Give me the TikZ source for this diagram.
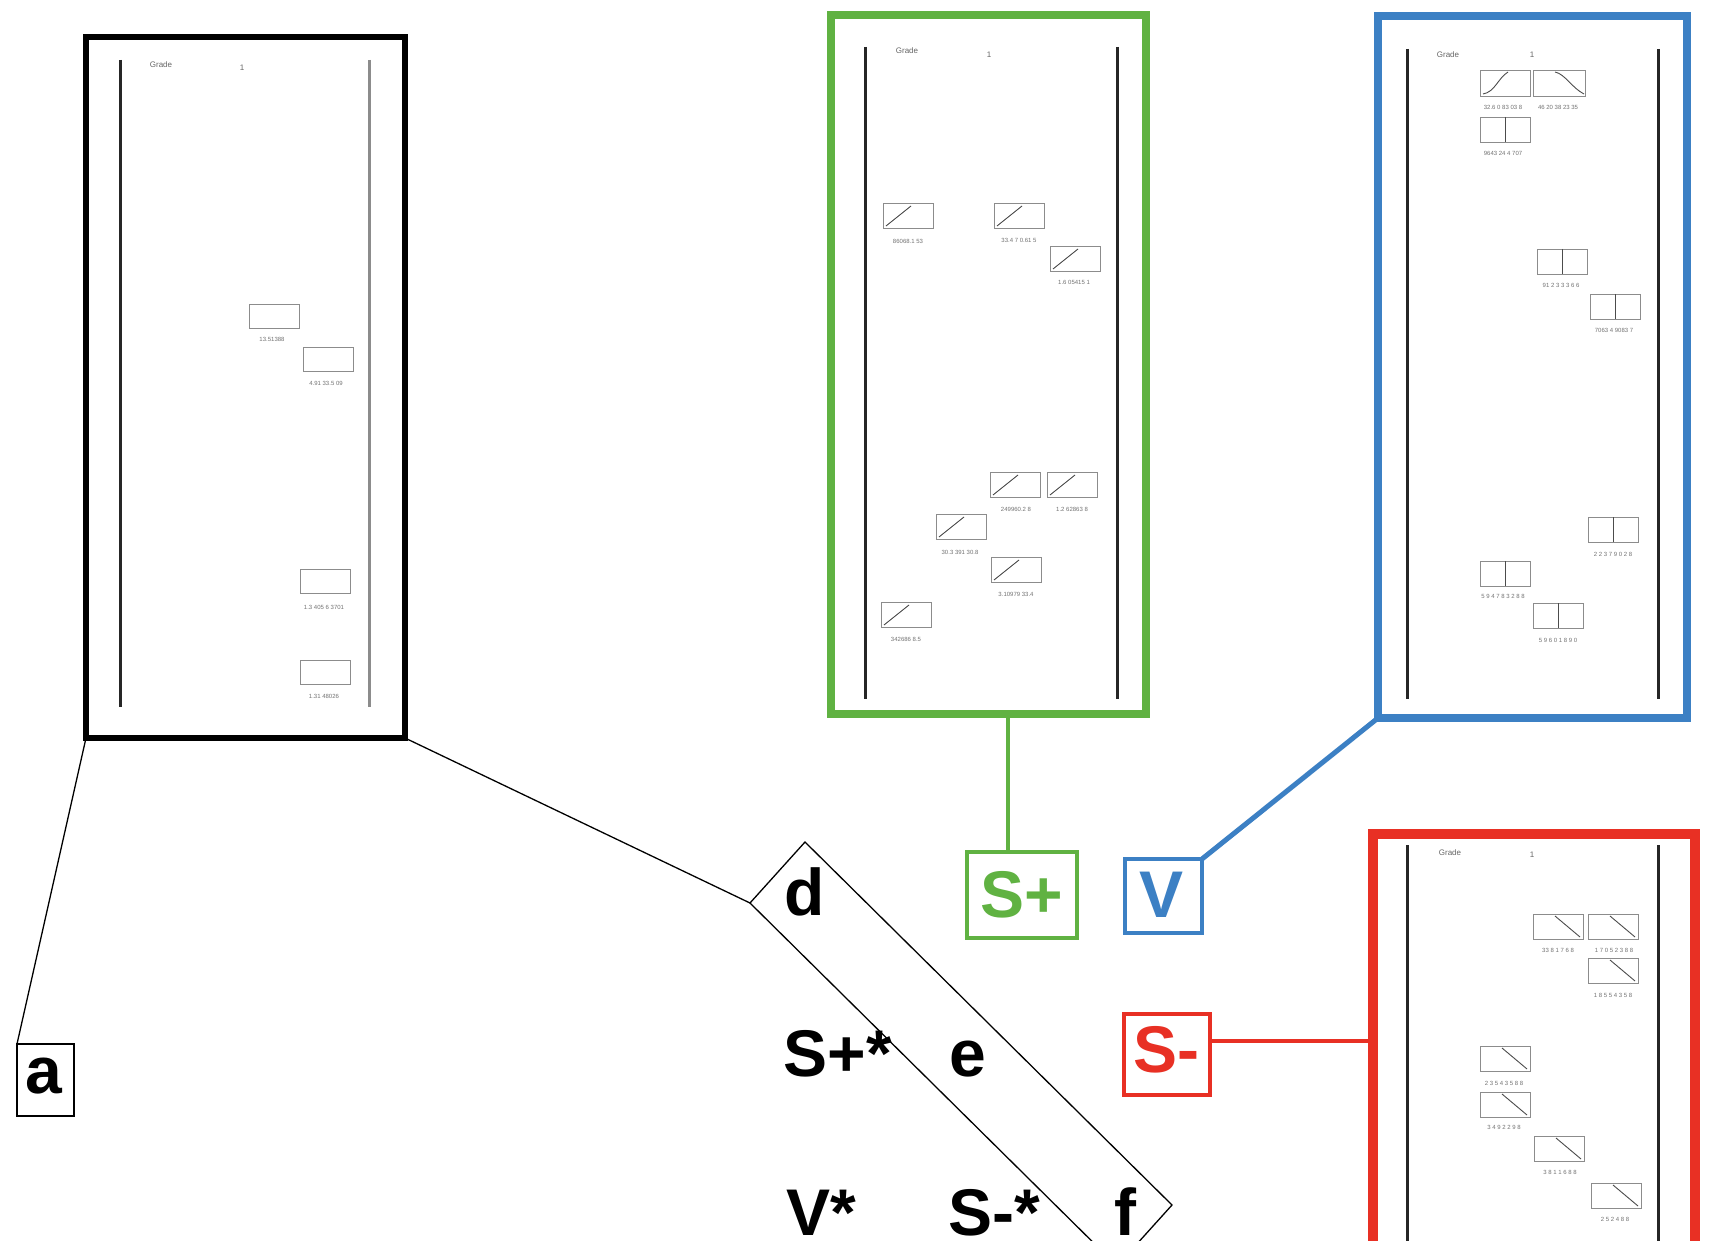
\documentclass[tikz,border=0pt]{standalone}
\usepackage{fontspec}
\setmainfont{Liberation Sans}
\usetikzlibrary{calc}
\definecolor{cgreen}{RGB}{96,178,66}
\definecolor{cblue}{RGB}{60,128,196}
\definecolor{cred}{RGB}{232,48,36}
\begin{document}
\begin{tikzpicture}[x=1pt,y=-1pt,
  frame/.style={draw,outer sep=0pt,inner sep=0pt},
  box/.style={draw,outer sep=0pt,inner sep=0pt,line width=3.5pt},
  big/.style={inner sep=0pt,anchor=base,font=\fontsize{66}{66}\selectfont\bfseries},
  rail/.style={line width=3pt,black!85},
  thumb/.style={draw=black!45,line width=0.8pt},
  thline/.style={black!70,line width=0.9pt},
  tlab/.style={inner sep=0pt,text=black!55,font=\fontsize{6}{6}\selectfont},
  glab/.style={inner sep=0pt,text=black!60,font=\fontsize{8}{8}\selectfont},
  pics/kth/.style={code={\draw[thumb] (0,0) rectangle (50,24);}},
  pics/gth/.style={code={\draw[thumb] (0,0) rectangle (50,25);\draw[thline] (3,23) -- (28,3);}},
  pics/bth/.style={code={\draw[thumb] (0,0) rectangle (50,25);\draw[thline] (25,0) -- (25,25);}},
  pics/rth/.style={code={\draw[thumb] (0,0) rectangle (50,25);\draw[thline] (22,2) -- (47,23);}},
]
\useasboundingbox (0,0) rectangle (1710,1241);
\clip (0,0) rectangle (1710,1241);
\fill[white] (0,0) rectangle (1710,1241);

% ---------- black frame ----------
\node[frame,line width=6.5pt,minimum width=319pt,minimum height=701pt] (blk) at (245.5,387.5) {};
\draw[rail] (120,60) -- (120,707);
\draw[rail,black!45] (369,60) -- (369,707);
\node[glab] (bg) at (161,65) {Grade};
\node[glab] (bg1) at (242,68) {1};
\pic at (249,304) {kth}; \node[tlab] (k1) at (272,339) {13.51388};
\pic at (303,347) {kth}; \node[tlab] (k2) at (326,383) {4.91 33.5 09};
\pic at (300,569) {kth}; \node[tlab] (k3) at (324,607) {1.3 405 6 3701};
\pic at (300,660) {kth}; \node[tlab] (k4) at (324,696) {1.31 48026};

% ---------- green frame ----------
\node[frame,draw=cgreen,line width=7.5pt,minimum width=315pt,minimum height=699pt] (grn) at (988.5,364.5) {};
\draw[rail] (865,47) -- (865,699);
\draw[rail] (1117,47) -- (1117,699);
\node[glab] (gg) at (907,51) {Grade};
\node[glab] (gg1) at (989,55) {1};
\pic at (883,203) {gth}; \node[tlab] (g1) at (908,241) {86068.1 53};
\pic at (994,203) {gth}; \node[tlab] (g2) at (1019,240) {33.4 7 0.61 5};
\pic at (1050,246) {gth}; \node[tlab] (g3) at (1074,282) {1.6 05415 1};
\pic at (990,472) {gth}; \node[tlab] (g4) at (1016,509) {249960.2 8};
\pic at (1047,472) {gth}; \node[tlab] (g5) at (1072,509) {1.2 62863 8};
\pic at (936,514) {gth}; \node[tlab] (g6) at (960,552) {30.3 391 30.8};
\pic at (991,557) {gth}; \node[tlab] (g7) at (1016,594) {3.10979 33.4};
\pic at (881,602) {gth}; \node[tlab] (g8) at (906,639) {342686 8.5};

% ---------- blue frame ----------
\node[frame,draw=cblue,line width=7.5pt,minimum width=309pt,minimum height=702pt] (blu) at (1532.5,367) {};
\draw[rail] (1407,49) -- (1407,699);
\draw[rail] (1658,49) -- (1658,699);
\node[glab] (bbg) at (1448,55) {Grade};
\node[glab] (bbg1) at (1532,55) {1};
\draw[thumb] (1480,70) rectangle (1530,96);
\draw[thline] (1483,94) .. controls (1495,92) and (1498,78) .. (1508,72);
\draw[thumb] (1533,70) rectangle (1585,96);
\draw[thline] (1555,72) .. controls (1565,74) and (1572,88) .. (1584,94);
\node[tlab] (b1) at (1503,107) {32.6 0 83 03 8};
\node[tlab] (b2) at (1558,107) {46 20 38 23 35};
\pic at (1480,117) {bth}; \node[tlab] (b3) at (1503,153) {9643 24 4 707};
\pic at (1537,249) {bth}; \node[tlab] (b4) at (1561,285) {91 2 3 3 3 6 6};
\pic at (1590,294) {bth}; \node[tlab] (b5) at (1614,330) {7063 4 9083 7};
\pic at (1588,517) {bth}; \node[tlab] (b6) at (1613,554) {2 2 3 7 9 0 2 8};
\pic at (1480,561) {bth}; \node[tlab] (b7) at (1503,596) {5 9 4 7 8 3 2 8 8};
\pic at (1533,603) {bth}; \node[tlab] (b8) at (1558,640) {5 9 6 0 1 8 9 0};

% ---------- red frame ----------
\node[frame,draw=cred,line width=10pt,minimum width=322pt,minimum height=456pt] (red) at (1534,1062) {};
\draw[rail] (1407,845) -- (1407,1290);
\draw[rail] (1658,845) -- (1658,1290);
\node[glab] (rg) at (1450,853) {Grade};
\node[glab] (rg1) at (1532,855) {1};
\pic at (1533,914) {rth}; \node[tlab] (r1) at (1558,950) {33 8 1 7 6 8};
\pic at (1588,914) {rth}; \node[tlab] (r2) at (1614,950) {1 7 0 5 2 3 8 8};
\pic at (1588,958) {rth}; \node[tlab] (r3) at (1613,995) {1 8 5 5 4 3 5 8};
\pic at (1480,1046) {rth}; \node[tlab] (r4) at (1504,1083) {2 3 5 4 3 5 8 8};
\pic at (1480,1092) {rth}; \node[tlab] (r5) at (1504,1127) {3 4 9 2 2 9 8};
\pic at (1534,1136) {rth}; \node[tlab] (r6) at (1560,1172) {3 8 1 1 6 8 8};
\pic at (1591,1183) {rth}; \node[tlab] (r7) at (1615,1219) {2 5 2 4 8 8};

% ---------- small label boxes ----------
\node[box,draw=cgreen,minimum width=110pt,minimum height=86pt] (spbox) at (1022,895) {};
\node[big,text=cgreen] (sp) at (1022,917) {S+};
\node[box,draw=cblue,minimum width=77pt,minimum height=74pt] (vbox) at (1163.5,896) {};
\node[big,text=cblue] (v) at (1161,917) {V};
\node[box,draw=cred,minimum width=86pt,minimum height=81pt] (smbox) at (1167,1054.5) {};
\node[big,text=cred] (sm) at (1166,1072) {S-};
\node[box,line width=1.5pt,minimum width=57pt,minimum height=72pt] (abox) at (45.5,1080) {};
\node[big] (a) at (44,1093) {a};

% ---------- rotated rectangle ----------
\coordinate (rL) at (750,903);
\coordinate (rT) at (805,842);
\coordinate (rR) at (1172,1205);
\coordinate (rB) at (1117,1266);
\draw[line width=1.3pt] (rL) -- (rT) -- (rR) -- (rB) -- cycle;
\node[big] (d) at (805,915) {d};
\node[big] (e) at (968,1076) {e};
\node[big] (f) at (1125,1235) {f};
\node[big] (spstar) at (838,1076) {S+*};
\node[big] (vstar) at (821,1235) {V*};
\node[big] (smstar) at (994,1235) {S-*};

% ---------- connectors ----------
\draw[line width=1.3pt] (blk.south west) -- (abox.north west);
\draw[line width=1.3pt] (blk.south east) -- (rL);
\draw[cgreen,line width=3.5pt] ([xshift=-14pt]spbox.north) -- ([xshift=-14pt]spbox.north |- grn.south);
\draw[cblue,line width=5pt] (vbox.north east) -- (blu.south west);
\draw[cred,line width=4pt] ([yshift=14pt]smbox.east) -- ([yshift=14pt]smbox.east -| red.west);
\end{tikzpicture}
\end{document}
